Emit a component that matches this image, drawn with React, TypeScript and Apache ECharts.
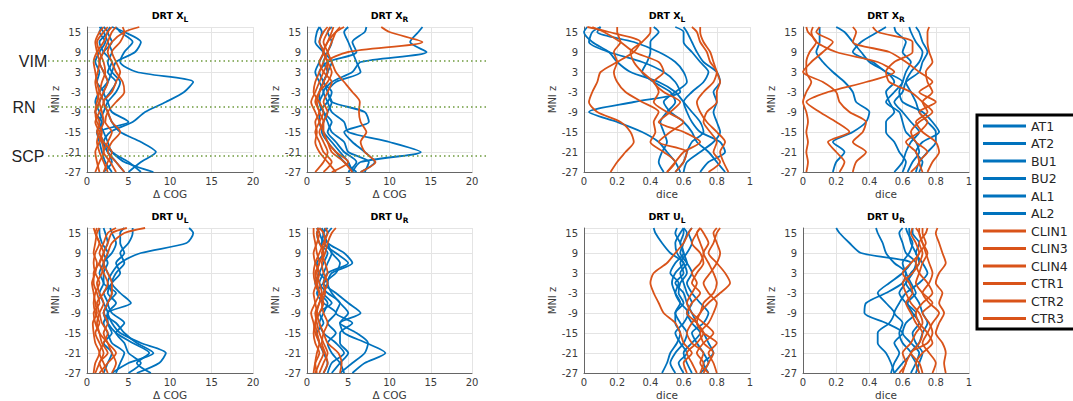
import React, { useEffect, useRef } from "react";
import * as echarts from "echarts";

// MNI z levels (shared by every trace, bottom to top)
const zLevels = [-27, -24, -21, -18, -15, -12, -9, -6, -3, 0, 3, 6, 9, 12, 15, 16.5];

const subjects = ["AT1", "AT2", "BU1", "BU2", "AL1", "AL2", "CLIN1", "CLIN3", "CLIN4", "CTR1", "CTR2", "CTR3"];
const blueSubjects = 6;

const landmarkNames = ["VIM", "RN", "SCP"];
const landmarkZ = [6.3, -7.5, -22.2];

const panelTitles = [
  ["X", "L"], ["X", "R"], ["X", "L"], ["X", "R"],
  ["U", "L"], ["U", "R"], ["U", "L"], ["U", "R"],
];
const panelMetric = ["cog", "cog", "dice", "dice", "cog", "cog", "dice", "dice"];

// Δ COG, DRT X_L
const cogXL = [
  [3.0, 2.2, 1.8, 1.5, 1.2, 1.8, 1.0, 1.5, 2.0, 1.2, 1.5, 1.0, 1.5, 2.2, 1.5, 1.8],
  [5.0, 6.5, 8.3, 6.5, 4.0, 3.0, 2.5, 2.0, 2.8, 3.5, 2.5, 3.0, 2.0, 1.5, 2.5, 2.0],
  [2.0, 3.0, 2.5, 2.0, 2.8, 5.5, 7.0, 9.5, 11.7, 12.8, 6.0, 4.0, 4.5, 5.5, 4.0, 3.5],
  [8.0, 4.5, 3.0, 2.0, 1.5, 5.0, 3.0, 2.5, 2.0, 2.5, 2.0, 1.5, 2.0, 3.0, 2.5, 2.8],
  [4.5, 3.5, 2.5, 1.8, 1.2, 2.0, 1.5, 1.0, 1.5, 2.5, 3.0, 3.5, 5.8, 6.5, 4.5, 3.0],
  [6.5, 5.0, 3.0, 2.5, 2.0, 1.5, 2.0, 2.5, 3.5, 4.0, 3.0, 2.5, 3.0, 2.5, 2.0, 1.5],
  [1.5, 1.2, 1.0, 1.5, 1.8, 1.2, 1.0, 1.5, 1.2, 1.0, 1.3, 1.5, 1.2, 1.0, 1.5, 2.0],
  [2.5, 2.0, 1.5, 1.2, 1.5, 2.0, 1.8, 1.5, 2.0, 2.5, 2.0, 1.5, 2.0, 2.5, 3.0, 3.5],
  [3.5, 2.8, 2.0, 2.5, 3.0, 2.2, 2.5, 3.5, 4.5, 4.3, 3.5, 3.0, 2.5, 3.0, 4.5, 6.3],
  [2.0, 2.5, 3.0, 2.0, 1.5, 1.0, 1.5, 2.0, 1.5, 1.2, 1.0, 0.8, 1.2, 2.0, 2.5, 3.0],
  [4.5, 3.5, 2.5, 3.0, 4.0, 3.0, 2.5, 2.0, 3.0, 3.5, 4.0, 3.5, 3.0, 4.0, 4.5, 4.3],
  [1.0, 1.5, 2.0, 1.8, 1.2, 1.5, 1.0, 1.2, 1.5, 1.8, 2.2, 2.0, 1.5, 1.2, 2.0, 2.5],
];

// Δ COG, DRT X_R
const cogXR = [
  [5.5, 6.5, 13.8, 10.0, 5.0, 4.5, 3.0, 2.5, 2.0, 3.0, 5.5, 6.5, 14.5, 12.5, 13.5, 14.0],
  [6.5, 8.2, 7.0, 5.5, 4.5, 7.5, 7.0, 3.0, 2.5, 2.0, 1.5, 2.5, 6.0, 5.5, 7.0, 7.2],
  [5.0, 6.0, 4.5, 3.5, 2.5, 3.0, 2.0, 1.5, 2.0, 1.5, 1.0, 1.5, 2.0, 1.5, 1.8, 1.5],
  [5.5, 5.0, 4.0, 3.0, 2.0, 1.5, 1.5, 2.5, 3.0, 2.0, 2.5, 2.0, 2.5, 3.0, 2.5, 3.0],
  [6.0, 4.5, 3.5, 2.5, 1.8, 2.0, 2.5, 3.0, 2.5, 3.5, 6.5, 6.0, 5.5, 5.0, 4.5, 5.0],
  [7.0, 7.5, 5.0, 4.5, 3.0, 2.5, 2.0, 1.5, 1.5, 2.0, 2.5, 3.0, 2.0, 1.0, 1.2, 1.5],
  [5.5, 4.5, 3.0, 2.5, 2.0, 1.5, 1.0, 0.5, 1.0, 1.5, 2.0, 2.5, 2.0, 2.5, 3.0, 3.2],
  [3.0, 5.0, 3.5, 2.5, 2.0, 2.0, 1.5, 1.2, 1.5, 2.0, 2.5, 2.5, 5.0, 14.0, 10.0, 9.0],
  [6.5, 8.3, 7.0, 6.5, 7.2, 6.5, 6.3, 6.4, 5.5, 4.5, 3.5, 3.0, 2.5, 2.0, 2.5, 2.8],
  [2.0, 3.0, 2.0, 1.5, 1.0, 1.5, 2.0, 1.5, 0.8, 1.0, 1.5, 2.0, 2.5, 3.0, 3.5, 4.0],
  [3.5, 2.5, 1.5, 1.0, 1.2, 1.0, 1.5, 1.0, 1.5, 2.5, 3.0, 2.5, 2.0, 2.5, 3.5, 4.5],
  [1.0, 2.0, 2.5, 2.0, 1.5, 2.0, 2.5, 2.0, 2.5, 3.0, 2.0, 1.5, 2.0, 1.5, 2.0, 2.5],
];

// dice, DRT X_L
const diceXL = [
  [0.55, 0.6, 0.62, 0.65, 0.72, 0.7, 0.65, 0.6, 0.55, 0.45, 0.28, 0.2, 0.15, 0.05, 0.0, 0.02],
  [0.58, 0.55, 0.5, 0.45, 0.35, 0.2, 0.03, 0.3, 0.58, 0.55, 0.48, 0.35, 0.15, 0.03, 0.05, 0.1],
  [0.6, 0.62, 0.7, 0.78, 0.82, 0.8, 0.78, 0.8, 0.78, 0.82, 0.8, 0.72, 0.68, 0.65, 0.62, 0.6],
  [0.7, 0.75, 0.85, 0.82, 0.7, 0.65, 0.62, 0.6, 0.65, 0.72, 0.75, 0.7, 0.65, 0.6, 0.6, 0.55],
  [0.48, 0.45, 0.47, 0.5, 0.48, 0.46, 0.5, 0.55, 0.52, 0.42, 0.35, 0.38, 0.4, 0.4, 0.45, 0.42],
  [0.85, 0.8, 0.75, 0.68, 0.65, 0.6, 0.52, 0.48, 0.55, 0.62, 0.6, 0.55, 0.45, 0.3, 0.08, 0.1],
  [0.16, 0.2, 0.25, 0.3, 0.28, 0.22, 0.08, 0.03, 0.05, 0.08, 0.1, 0.2, 0.3, 0.34, 0.15, 0.02],
  [0.5, 0.55, 0.48, 0.4, 0.43, 0.42, 0.45, 0.35, 0.25, 0.2, 0.18, 0.2, 0.18, 0.22, 0.2, 0.2],
  [0.55, 0.6, 0.62, 0.45, 0.52, 0.6, 0.5, 0.42, 0.45, 0.42, 0.35, 0.3, 0.28, 0.35, 0.4, 0.4],
  [0.75, 0.82, 0.78, 0.8, 0.76, 0.72, 0.74, 0.8, 0.8, 0.82, 0.8, 0.78, 0.76, 0.72, 0.7, 0.7],
  [0.87, 0.84, 0.82, 0.85, 0.8, 0.74, 0.7, 0.68, 0.72, 0.78, 0.8, 0.76, 0.74, 0.7, 0.68, 0.65],
  [0.5, 0.55, 0.6, 0.7, 0.6, 0.45, 0.52, 0.58, 0.48, 0.42, 0.48, 0.45, 0.3, 0.22, 0.12, 0.05],
];

// dice, DRT X_R
const diceXR = [
  [0.18, 0.2, 0.25, 0.18, 0.3, 0.38, 0.4, 0.32, 0.3, 0.25, 0.18, 0.12, 0.08, 0.1, 0.1, 0.1],
  [0.6, 0.62, 0.58, 0.55, 0.5, 0.5, 0.55, 0.52, 0.5, 0.55, 0.5, 0.4, 0.35, 0.3, 0.25, 0.2],
  [0.63, 0.66, 0.7, 0.68, 0.62, 0.6, 0.58, 0.5, 0.55, 0.6, 0.5, 0.42, 0.3, 0.35, 0.45, 0.5],
  [0.7, 0.72, 0.68, 0.72, 0.82, 0.78, 0.72, 0.6, 0.58, 0.6, 0.62, 0.65, 0.6, 0.62, 0.56, 0.55],
  [0.68, 0.7, 0.75, 0.8, 0.8, 0.75, 0.7, 0.68, 0.65, 0.62, 0.65, 0.7, 0.72, 0.68, 0.65, 0.64],
  [0.55, 0.6, 0.62, 0.65, 0.7, 0.65, 0.6, 0.55, 0.6, 0.62, 0.7, 0.72, 0.75, 0.72, 0.7, 0.68],
  [0.02, 0.03, 0.02, 0.03, 0.02, 0.03, 0.02, 0.0, 0.02, 0.05, 0.02, 0.02, 0.04, 0.08, 0.03, 0.02],
  [0.3, 0.32, 0.38, 0.3, 0.36, 0.38, 0.28, 0.22, 0.2, 0.12, 0.0, 0.05, 0.12, 0.18, 0.08, 0.1],
  [0.22, 0.25, 0.2, 0.15, 0.28, 0.2, 0.1, 0.02, 0.15, 0.38, 0.55, 0.45, 0.2, 0.08, 0.05, 0.06],
  [0.72, 0.7, 0.75, 0.68, 0.65, 0.7, 0.78, 0.72, 0.65, 0.52, 0.5, 0.55, 0.66, 0.66, 0.45, 0.42],
  [0.75, 0.78, 0.82, 0.8, 0.72, 0.68, 0.75, 0.72, 0.78, 0.75, 0.74, 0.78, 0.76, 0.75, 0.75, 0.76],
  [0.65, 0.7, 0.68, 0.62, 0.7, 0.75, 0.7, 0.8, 0.7, 0.78, 0.7, 0.62, 0.52, 0.3, 0.32, 0.3],
];

// Δ COG, DRT U_L
const cogUL = [
  [3.0, 5.0, 8.0, 6.0, 4.5, 3.5, 2.0, 2.5, 3.0, 2.5, 3.0, 4.0, 6.5, 12.0, 12.8, 12.3],
  [6.0, 8.7, 9.5, 6.5, 4.0, 3.0, 2.5, 5.3, 4.0, 3.0, 3.5, 4.5, 4.0, 5.0, 5.5, 5.5],
  [7.7, 6.0, 7.5, 5.5, 3.5, 2.5, 2.0, 2.5, 2.0, 3.0, 2.5, 2.0, 3.0, 3.5, 3.0, 2.8],
  [5.0, 6.5, 5.0, 4.5, 3.5, 4.5, 3.0, 2.5, 3.5, 2.0, 2.0, 2.5, 2.0, 2.5, 2.2, 2.0],
  [3.5, 4.0, 4.5, 3.0, 2.5, 2.0, 2.5, 2.0, 1.5, 2.0, 1.5, 2.0, 2.5, 1.8, 1.5, 1.5],
  [2.0, 2.5, 3.0, 2.0, 3.0, 2.5, 2.5, 3.5, 2.5, 3.0, 4.0, 3.5, 4.5, 4.0, 4.0, 4.5],
  [1.0, 1.5, 2.0, 1.5, 1.0, 1.5, 1.0, 0.8, 1.0, 1.5, 1.0, 0.8, 1.0, 1.5, 1.0, 1.2],
  [2.0, 1.5, 2.5, 1.8, 1.5, 1.2, 1.5, 2.0, 1.5, 1.2, 1.8, 2.0, 1.5, 2.0, 2.5, 3.5],
  [3.0, 3.5, 3.0, 2.5, 2.0, 2.5, 2.0, 2.5, 3.0, 3.0, 2.5, 2.0, 2.5, 3.0, 4.5, 7.0],
  [0.8, 1.0, 1.5, 1.0, 0.8, 0.7, 1.2, 1.0, 0.8, 0.6, 1.0, 1.2, 0.8, 1.0, 1.2, 1.5],
  [2.5, 2.0, 1.5, 2.0, 2.5, 1.8, 1.5, 1.2, 2.0, 2.5, 2.0, 1.5, 2.0, 2.5, 3.0, 4.8],
  [1.5, 2.5, 3.5, 2.5, 1.5, 1.0, 0.8, 1.5, 1.2, 0.8, 0.8, 1.5, 2.0, 1.5, 1.0, 0.8],
];

// Δ COG, DRT U_R
const cogUR = [
  [5.5, 7.0, 9.5, 7.2, 4.5, 4.0, 5.0, 4.0, 3.0, 2.5, 3.0, 5.5, 4.5, 2.5, 2.0, 2.5],
  [4.0, 5.5, 7.0, 7.4, 6.0, 4.0, 6.5, 5.0, 3.5, 2.0, 2.5, 5.0, 3.5, 2.0, 2.5, 3.0],
  [3.0, 4.0, 5.0, 4.0, 4.0, 5.5, 3.5, 4.0, 2.5, 1.5, 2.0, 2.5, 3.0, 2.0, 1.5, 1.2],
  [2.5, 3.0, 4.5, 3.5, 2.0, 1.5, 2.0, 2.5, 1.5, 1.0, 1.5, 2.0, 2.5, 1.5, 1.2, 1.5],
  [4.5, 4.0, 3.0, 2.5, 3.5, 2.5, 3.5, 2.0, 1.2, 2.0, 3.5, 4.0, 3.0, 2.5, 2.0, 2.2],
  [2.0, 2.5, 2.0, 1.5, 1.2, 2.0, 1.5, 3.0, 2.0, 2.5, 1.5, 1.2, 2.0, 1.8, 2.0, 1.8],
  [1.0, 1.5, 2.0, 1.5, 1.0, 0.8, 0.5, 1.0, 1.5, 1.2, 1.0, 1.5, 1.2, 1.0, 0.8, 0.8],
  [4.0, 4.2, 3.8, 2.5, 2.0, 1.5, 1.2, 1.5, 2.0, 2.5, 2.0, 1.8, 2.2, 2.5, 3.0, 3.5],
  [1.5, 2.0, 2.5, 2.0, 1.5, 1.2, 1.0, 1.5, 1.8, 1.5, 1.2, 1.5, 2.0, 1.5, 1.2, 1.5],
  [0.8, 1.0, 1.5, 1.0, 0.8, 1.0, 1.5, 2.0, 1.5, 1.0, 0.8, 1.0, 1.5, 2.0, 2.5, 2.2],
  [2.0, 2.5, 2.2, 1.8, 2.0, 2.5, 2.0, 1.8, 2.2, 2.0, 2.5, 2.2, 1.8, 2.2, 2.0, 1.5],
  [1.2, 1.0, 1.2, 1.5, 1.2, 1.0, 1.2, 1.0, 0.8, 1.2, 1.5, 1.0, 0.8, 1.2, 1.5, 1.2],
];

// dice, DRT U_L
const diceUL = [
  [0.47, 0.5, 0.52, 0.56, 0.58, 0.55, 0.55, 0.58, 0.55, 0.53, 0.55, 0.6, 0.52, 0.47, 0.43, 0.42],
  [0.55, 0.52, 0.55, 0.6, 0.62, 0.58, 0.55, 0.6, 0.57, 0.58, 0.62, 0.6, 0.56, 0.55, 0.58, 0.6],
  [0.65, 0.62, 0.6, 0.65, 0.7, 0.65, 0.62, 0.65, 0.62, 0.6, 0.58, 0.62, 0.6, 0.58, 0.6, 0.6],
  [0.7, 0.75, 0.72, 0.68, 0.65, 0.72, 0.75, 0.7, 0.65, 0.62, 0.65, 0.62, 0.58, 0.6, 0.62, 0.6],
  [0.75, 0.72, 0.78, 0.75, 0.72, 0.68, 0.65, 0.62, 0.6, 0.55, 0.6, 0.58, 0.62, 0.65, 0.63, 0.65],
  [0.6, 0.57, 0.62, 0.58, 0.55, 0.6, 0.63, 0.58, 0.55, 0.57, 0.52, 0.55, 0.6, 0.58, 0.55, 0.56],
  [0.62, 0.6, 0.65, 0.6, 0.58, 0.55, 0.48, 0.45, 0.42, 0.4, 0.42, 0.5, 0.55, 0.6, 0.63, 0.65],
  [0.7, 0.72, 0.68, 0.72, 0.78, 0.72, 0.65, 0.62, 0.65, 0.68, 0.65, 0.7, 0.72, 0.7, 0.68, 0.7],
  [0.8, 0.78, 0.75, 0.8, 0.72, 0.68, 0.7, 0.75, 0.82, 0.88, 0.85, 0.8, 0.75, 0.78, 0.8, 0.82],
  [0.72, 0.75, 0.78, 0.72, 0.7, 0.75, 0.78, 0.8, 0.75, 0.72, 0.76, 0.8, 0.82, 0.8, 0.78, 0.8],
  [0.75, 0.7, 0.72, 0.65, 0.62, 0.65, 0.7, 0.72, 0.78, 0.8, 0.78, 0.75, 0.72, 0.75, 0.72, 0.7],
  [0.68, 0.65, 0.62, 0.68, 0.72, 0.68, 0.62, 0.65, 0.7, 0.65, 0.68, 0.72, 0.7, 0.65, 0.68, 0.7],
];

// dice, DRT U_R
const diceUR = [
  [0.55, 0.53, 0.5, 0.45, 0.45, 0.52, 0.55, 0.5, 0.45, 0.52, 0.6, 0.65, 0.35, 0.28, 0.22, 0.2],
  [0.53, 0.55, 0.58, 0.55, 0.6, 0.5, 0.37, 0.38, 0.5, 0.6, 0.62, 0.55, 0.5, 0.48, 0.45, 0.44],
  [0.65, 0.68, 0.7, 0.65, 0.6, 0.62, 0.68, 0.62, 0.58, 0.62, 0.66, 0.68, 0.62, 0.6, 0.58, 0.6],
  [0.68, 0.7, 0.72, 0.68, 0.66, 0.7, 0.66, 0.63, 0.68, 0.65, 0.62, 0.6, 0.64, 0.66, 0.63, 0.62],
  [0.7, 0.68, 0.65, 0.7, 0.72, 0.75, 0.72, 0.7, 0.66, 0.62, 0.65, 0.7, 0.68, 0.65, 0.64, 0.64],
  [0.55, 0.6, 0.65, 0.6, 0.58, 0.6, 0.55, 0.58, 0.62, 0.7, 0.75, 0.72, 0.68, 0.7, 0.66, 0.66],
  [0.6, 0.62, 0.65, 0.7, 0.72, 0.68, 0.65, 0.62, 0.66, 0.64, 0.6, 0.65, 0.7, 0.68, 0.65, 0.66],
  [0.72, 0.7, 0.65, 0.75, 0.78, 0.76, 0.72, 0.78, 0.72, 0.68, 0.7, 0.72, 0.75, 0.72, 0.7, 0.7],
  [0.86, 0.85, 0.86, 0.84, 0.8, 0.82, 0.85, 0.82, 0.84, 0.8, 0.82, 0.86, 0.84, 0.82, 0.8, 0.81],
  [0.78, 0.8, 0.76, 0.72, 0.75, 0.78, 0.82, 0.76, 0.72, 0.76, 0.78, 0.76, 0.74, 0.72, 0.7, 0.68],
  [0.7, 0.68, 0.72, 0.78, 0.75, 0.7, 0.68, 0.72, 0.78, 0.75, 0.7, 0.68, 0.7, 0.74, 0.72, 0.72],
  [0.58, 0.62, 0.6, 0.65, 0.68, 0.72, 0.7, 0.65, 0.62, 0.6, 0.66, 0.7, 0.72, 0.7, 0.74, 0.75],
];

const panels = [cogXL, cogXR, diceXL, diceXR, cogUL, cogUR, diceUL, diceUR];

const BLUE = "#0072BD";
const ORANGE = "#D95319";
const FONT = "DejaVu Sans";
const TEXT = "#3a3a3a";

// layout
const colLeft = [87, 307, 584, 803];
const colWidth = [166, 165, 166, 166];
const rowTop = [27, 228];
const plotHeight = 145;

export default function App() {
  const ref = useRef<HTMLDivElement>(null);

  useEffect(() => {
    if (!ref.current) return;
    const chart = echarts.init(ref.current, null, { renderer: "svg" });

    const grids: any[] = [];
    const xAxes: any[] = [];
    const yAxes: any[] = [];
    const series: any[] = [];

    panels.forEach((panel, p) => {
      const col = p % 4;
      const row = Math.floor(p / 4);
      grids.push({ left: colLeft[col], top: rowTop[row], width: colWidth[col], height: plotHeight, containLabel: false });
      const isCog = panelMetric[p] === "cog";
      xAxes.push({
        type: "value", gridIndex: p, min: 0, max: isCog ? 20 : 1, interval: isCog ? 5 : 0.2,
        name: isCog ? "Δ COG" : "dice", nameLocation: "middle", nameGap: 16,
        nameTextStyle: { fontSize: 10.5, color: TEXT, fontFamily: FONT },
        axisLabel: { fontSize: 10, color: TEXT, fontFamily: FONT, margin: 4 },
        axisLine: { show: true, onZero: false, lineStyle: { color: "#666", width: 1 } },
        axisTick: { show: false },
        splitLine: { show: true, lineStyle: { color: "#e4e4e4", width: 1 } },
      });
      yAxes.push({
        type: "value", gridIndex: p, min: -27, max: 16.5, interval: 6,
        name: "MNI z", nameLocation: "middle", nameGap: 22,
        nameTextStyle: { fontSize: 10, color: TEXT, fontFamily: FONT },
        axisLabel: { fontSize: 10, color: TEXT, fontFamily: FONT, margin: 6, showMaxLabel: false },
        axisLine: { show: true, onZero: false, lineStyle: { color: "#666", width: 1 } },
        axisTick: { show: false },
        splitLine: { show: true, lineStyle: { color: "#e4e4e4", width: 1 } },
      });
      panel.forEach((xs, s) => {
        const color = s < blueSubjects ? BLUE : ORANGE;
        series.push({
          type: "line", name: subjects[s], xAxisIndex: p, yAxisIndex: p,
          data: xs.map((x, i) => [x, zLevels[i]]),
          symbol: "none", smooth: 0.25, color,
          lineStyle: { width: 1.8, color }, itemStyle: { color },
          emphasis: { disabled: true },
        });
      });
    });

    chart.setOption({
      animation: false,
      backgroundColor: "#ffffff",
      grid: grids,
      xAxis: xAxes,
      yAxis: yAxes,
      series,
      legend: {
        data: subjects, orient: "vertical", left: 976, top: 115,
        padding: [4, 2, 4, 7], itemGap: 3.5, itemWidth: 43, itemHeight: 3, icon: "rect",
        borderWidth: 0, selectedMode: false,
        textStyle: { fontSize: 12.5, color: "#262626", fontFamily: FONT, lineHeight: 14 },
      },
    });

    const graphics: any[] = [
      {
        type: "rect",
        shape: { x: 977, y: 115, width: 110, height: 214 },
        style: { fill: "none", stroke: "#000", lineWidth: 3 },
      },
    ];
    panels.forEach((_, p) => {
      const col = p % 4;
      const row = Math.floor(p / 4);
      graphics.push({
        type: "text",
        x: colLeft[col] + colWidth[col] / 2,
        y: rowTop[row] - 12,
        style: {
          text: `{m|DRT ${panelTitles[p][0]}}{s|${panelTitles[p][1]}}`,
          align: "center", verticalAlign: "middle",
          rich: {
            m: { fontSize: 9.5, fontWeight: "bold", fontFamily: FONT, fill: "#000", lineHeight: 16, verticalAlign: "middle" },
            s: { fontSize: 7.5, fontWeight: "bold", fontFamily: FONT, fill: "#000", lineHeight: 16, verticalAlign: "bottom" },
          },
        },
      });
    });
    const labelX = [33, 24, 28];
    landmarkZ.forEach((z, i) => {
      const y = chart.convertToPixel({ yAxisIndex: 0 }, z) as number;
      graphics.push({
        type: "line", z: 10,
        shape: { x1: 48, y1: y, x2: 487, y2: y },
        style: { stroke: "#6e9a3c", lineWidth: 1.5, lineDash: [1.5, 3] },
      });
      graphics.push({
        type: "text", x: labelX[i], y,
        style: { text: landmarkNames[i], align: "center", verticalAlign: "middle", fontSize: 16, fontFamily: "Liberation Sans", fill: "#222" },
      });
    });
    chart.setOption({ graphic: graphics });

    return () => chart.dispose();
  }, []);

  return <div ref={ref} style={{ position: "absolute", left: 0, top: 0, width: 1073, height: 401 }} />;
}
